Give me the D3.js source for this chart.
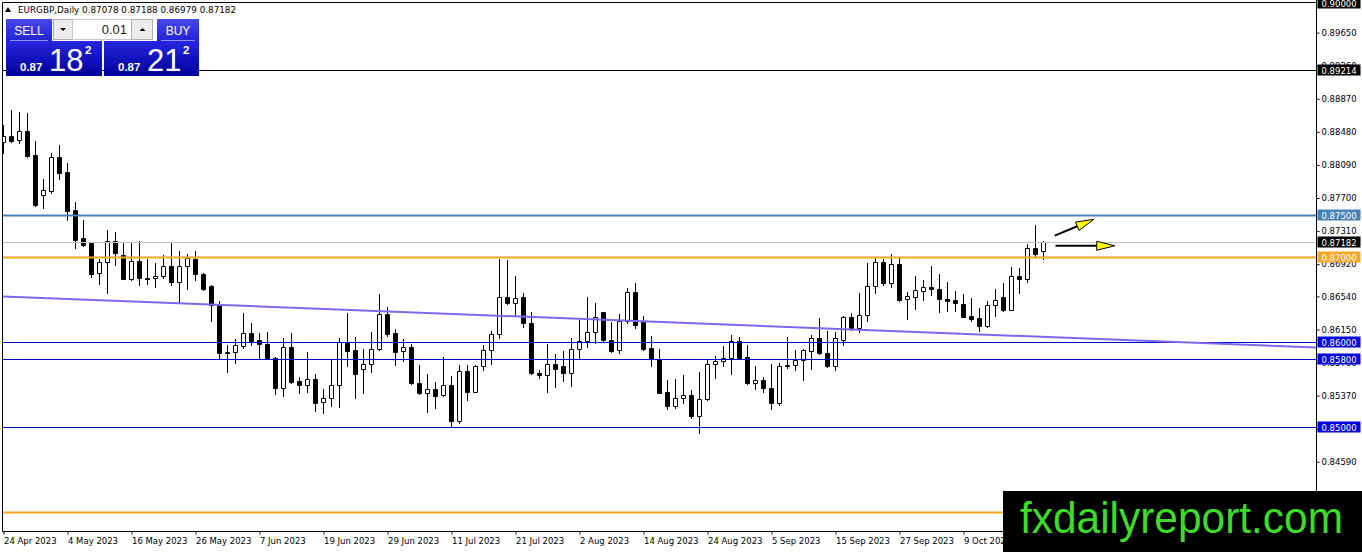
<!DOCTYPE html>
<html>
<head>
<meta charset="utf-8">
<script src="https://cdn.jsdelivr.net/npm/d3@7"></script>
<style>
body { margin: 0; background: #fff; }
svg { display: block; }
</style>
</head>
<body>
<script>
// daily EURGBP bars, 24 Apr 2023 onwards
var barOpen = [
  0.88364, 0.88431, 0.88384, 0.88494, 0.88207, 0.87736, 0.87786, 0.88184, 0.88011, 0.87559,
  0.87232, 0.87166, 0.86813, 0.86949, 0.87197, 0.87028, 0.86745, 0.86957, 0.86753, 0.86753,
  0.86784, 0.86898, 0.86713, 0.86898, 0.86977, 0.86804, 0.86666, 0.86438, 0.85876, 0.85881,
  0.85959, 0.86105, 0.86026, 0.85975, 0.85810, 0.85456, 0.85947, 0.85539, 0.85500, 0.85571,
  0.85291, 0.85338, 0.85492, 0.85994, 0.85908, 0.85681, 0.85748, 0.85925, 0.86329, 0.86105,
  0.85900, 0.85939, 0.85524, 0.85397, 0.85444, 0.85377, 0.85492, 0.85074, 0.85664, 0.85416,
  0.85722, 0.85913, 0.86093, 0.86529, 0.86458, 0.86529, 0.86223, 0.85642, 0.85618, 0.85748,
  0.85719, 0.85642, 0.85925, 0.86014, 0.86117, 0.86352, 0.86026, 0.85908, 0.86250, 0.86595,
  0.86250, 0.85935, 0.85801, 0.85409, 0.85251, 0.85338, 0.85377, 0.85133, 0.85326, 0.85748,
  0.85775, 0.85810, 0.86014, 0.85822, 0.85524, 0.85559, 0.85456, 0.85286, 0.85722, 0.85731,
  0.85790, 0.85896, 0.86047, 0.85869, 0.85722, 0.86026, 0.86294, 0.86164, 0.86321, 0.86666,
  0.86942, 0.86702, 0.86918, 0.86506, 0.86537, 0.86604, 0.86647, 0.86623, 0.86509, 0.86497,
  0.86450, 0.86309, 0.86282, 0.86191, 0.86438, 0.86537, 0.86384, 0.86780, 0.86741, 0.87107,
  0.87078
];
var barHigh = [
  0.88561, 0.88738, 0.88714, 0.88703, 0.88372, 0.87924, 0.88234, 0.88325, 0.88117, 0.87657,
  0.87441, 0.87170, 0.86977, 0.87323, 0.87303, 0.87166, 0.87173, 0.87193, 0.86977, 0.86930,
  0.87028, 0.87166, 0.87077, 0.87040, 0.87077, 0.86816, 0.86673, 0.86489, 0.85967, 0.86038,
  0.86348, 0.86223, 0.86112, 0.86117, 0.85822, 0.86054, 0.86105, 0.85590, 0.85888, 0.85630,
  0.85451, 0.85790, 0.86047, 0.86343, 0.86058, 0.85925, 0.86117, 0.86568, 0.86411, 0.86156,
  0.86034, 0.85978, 0.85736, 0.85625, 0.85531, 0.85828, 0.85598, 0.85736, 0.85731, 0.85736,
  0.85967, 0.86133, 0.86981, 0.86969, 0.86780, 0.86576, 0.86352, 0.85677, 0.85975, 0.85866,
  0.85893, 0.86047, 0.86262, 0.86529, 0.86466, 0.86359, 0.86234, 0.86329, 0.86642, 0.86698,
  0.86309, 0.86073, 0.85920, 0.85554, 0.85566, 0.85613, 0.85436, 0.85644, 0.85790, 0.85837,
  0.85959, 0.86085, 0.86065, 0.85967, 0.85719, 0.85590, 0.85748, 0.85760, 0.86058, 0.85908,
  0.85920, 0.86085, 0.86284, 0.86129, 0.86121, 0.86312, 0.86343, 0.86576, 0.86930, 0.86989,
  0.86981, 0.87036, 0.86989, 0.86595, 0.86780, 0.86733, 0.86898, 0.86801, 0.86713, 0.86607,
  0.86568, 0.86517, 0.86399, 0.86489, 0.86627, 0.86694, 0.86890, 0.86871, 0.87158, 0.87382,
  0.87188
];
var barLow = [
  0.88231, 0.88364, 0.88349, 0.88187, 0.87606, 0.87582, 0.87759, 0.87928, 0.87441, 0.87111,
  0.87140, 0.86773, 0.86686, 0.86584, 0.86910, 0.86745, 0.86739, 0.86675, 0.86686, 0.86651,
  0.86753, 0.86675, 0.86466, 0.86627, 0.86733, 0.86616, 0.86253, 0.85810, 0.85652, 0.85758,
  0.85935, 0.85967, 0.85817, 0.85798, 0.85385, 0.85369, 0.85519, 0.85397, 0.85416, 0.85192,
  0.85161, 0.85251, 0.85232, 0.85722, 0.85338, 0.85404, 0.85652, 0.85913, 0.86073, 0.85731,
  0.85782, 0.85507, 0.85388, 0.85180, 0.85227, 0.85369, 0.85015, 0.85043, 0.85318, 0.85409,
  0.85672, 0.85743, 0.86046, 0.86450, 0.86321, 0.86176, 0.85630, 0.85583, 0.85416, 0.85472,
  0.85543, 0.85484, 0.85817, 0.85939, 0.85989, 0.86018, 0.85888, 0.85869, 0.86223, 0.86168,
  0.85908, 0.85722, 0.85397, 0.85212, 0.85220, 0.85286, 0.85109, 0.84926, 0.85318, 0.85578,
  0.85722, 0.85630, 0.85810, 0.85512, 0.85448, 0.85416, 0.85212, 0.85259, 0.85699, 0.85672,
  0.85559, 0.85680, 0.85861, 0.85711, 0.85672, 0.85967, 0.86144, 0.86117, 0.86250, 0.86584,
  0.86675, 0.86655, 0.86486, 0.86274, 0.86391, 0.86497, 0.86556, 0.86361, 0.86368, 0.86368,
  0.86294, 0.86253, 0.86129, 0.86180, 0.86312, 0.86364, 0.86376, 0.86584, 0.86713, 0.87020,
  0.86979
];
var barClose = [
  0.88431, 0.88376, 0.88494, 0.88195, 0.87618, 0.87795, 0.88180, 0.87999, 0.87550, 0.87205,
  0.87152, 0.86804, 0.86949, 0.87197, 0.87048, 0.86751, 0.86957, 0.86760, 0.86745, 0.86780,
  0.86898, 0.86713, 0.86898, 0.86989, 0.86801, 0.86627, 0.86438, 0.85876, 0.85884, 0.85967,
  0.86105, 0.86014, 0.85975, 0.85810, 0.85456, 0.85947, 0.85531, 0.85500, 0.85571, 0.85279,
  0.85338, 0.85492, 0.85999, 0.85900, 0.85630, 0.85748, 0.85925, 0.86329, 0.86093, 0.85888,
  0.85939, 0.85519, 0.85397, 0.85444, 0.85369, 0.85500, 0.85074, 0.85664, 0.85416, 0.85719,
  0.85913, 0.86093, 0.86529, 0.86458, 0.86517, 0.86223, 0.85637, 0.85613, 0.85748, 0.85689,
  0.85642, 0.85925, 0.86014, 0.86117, 0.86301, 0.86026, 0.85900, 0.86250, 0.86595, 0.86203,
  0.85920, 0.85801, 0.85404, 0.85251, 0.85338, 0.85377, 0.85133, 0.85326, 0.85748, 0.85775,
  0.85810, 0.86014, 0.85817, 0.85519, 0.85559, 0.85456, 0.85286, 0.85722, 0.85731, 0.85790,
  0.85908, 0.86047, 0.85869, 0.85722, 0.86047, 0.86294, 0.86171, 0.86321, 0.86666, 0.86942,
  0.86702, 0.86918, 0.86497, 0.86545, 0.86615, 0.86647, 0.86623, 0.86506, 0.86486, 0.86466,
  0.86301, 0.86274, 0.86191, 0.86438, 0.86497, 0.86376, 0.86780, 0.86741, 0.87107, 0.87040,
  0.87182
];

var dateLabels = ["24 Apr 2023", "4 May 2023", "16 May 2023", "26 May 2023", "7 Jun 2023",
  "19 Jun 2023", "29 Jun 2023", "11 Jul 2023", "21 Jul 2023", "2 Aug 2023", "14 Aug 2023",
  "24 Aug 2023", "5 Sep 2023", "15 Sep 2023", "27 Sep 2023", "9 Oct 2023"];
var dateLabelBars = [0, 8, 16, 24, 32, 40, 48, 56, 64, 72, 80, 88, 96, 104, 112, 120];

var priceTicks = [0.89650, 0.89260, 0.88870, 0.88480, 0.88090, 0.87700, 0.87310, 0.86920,
  0.86540, 0.86150, 0.85760, 0.85370, 0.84980, 0.84590];

// horizontal levels drawn on the chart
var levelPrices = [0.89214, 0.87500, 0.87000, 0.86000, 0.85800, 0.85000, 0.84000];
var levelKinds  = ["black", "steel", "orange", "navy", "navy", "navy", "orange"];

// trend line anchors [bar, price]
var trendPoints = [[0, 0.86539], [130, 0.86062]];

// arrows [bar, price] from -> to
var arrowFrom = [[131.4, 0.87256], [131.5, 0.87137]];
var arrowTo   = [[136.3, 0.87449], [138.9, 0.87137]];

var symbol = "EURGBP,Daily";
var bidPrice = 0.87182, askPrice = 0.87212, lotSize = "0.01";
var siteName = "fxdailyreport.com";

var colors = {
  black: "#000000", steel: "#4682b4", orange: "#f5a623", navy: "#0000c8",
  navyBox: "#0000e6", trend: "#7b68ee", bid: "#c0c0c0"
};

var W = 1362, H = 552;
var plotL = 2.5, plotR = 1316.5, plotT = 2.5, plotB = 531.5;
var markTop = 491; // top of the site banner
var font = "'DejaVu Sans', sans-serif";
var fs = 8.5;

var x = d3.scaleLinear().domain([0, 130]).range([3.5, 1043.5]);
var y = d3.scaleLinear().domain([0.85, 0.90]).range([427, 3]);

var svg = d3.select("body").append("svg")
    .attr("width", W)
    .attr("height", H);

var defs = svg.append("defs");
defs.append("clipPath").attr("id", "plotClip")
  .append("rect")
    .attr("x", plotL + 0.5).attr("y", plotT + 0.5)
    .attr("width", plotR - plotL - 0.5).attr("height", plotB - plotT - 0.5);

var gBtn = defs.append("linearGradient").attr("id", "btnGrad")
    .attr("x1", 0).attr("y1", 0).attr("x2", 0).attr("y2", 1);
gBtn.append("stop").attr("offset", "0%").attr("stop-color", "#4848f0");
gBtn.append("stop").attr("offset", "100%").attr("stop-color", "#2222d0");

var gBox = defs.append("linearGradient").attr("id", "boxGrad")
    .attr("x1", 0).attr("y1", 0).attr("x2", 0).attr("y2", 1);
gBox.append("stop").attr("offset", "0%").attr("stop-color", "#2626e0");
gBox.append("stop").attr("offset", "100%").attr("stop-color", "#00009a");

var plot = svg.append("g").attr("clip-path", "url(#plotClip)");

// candles
var bars = d3.range(barOpen.length).map(function (i) {
  return { i: i, o: barOpen[i], h: barHigh[i], l: barLow[i], c: barClose[i] };
});

plot.selectAll("line.wick")
  .data(bars)
  .enter()
  .append("line")
    .attr("class", "wick")
    .attr("x1", function (d) { return x(d.i); })
    .attr("x2", function (d) { return x(d.i); })
    .attr("y1", function (d) { return Math.round(y(d.h)); })
    .attr("y2", function (d) { return Math.round(y(d.l)) + 1; })
    .attr("stroke", "#000")
    .attr("shape-rendering", "crispEdges");

plot.selectAll("path.body")
  .data(bars)
  .enter()
  .append("path")
    .attr("class", "body")
    .attr("d", function (d) {
      var top = Math.round(y(Math.max(d.o, d.c))) + 0.5;
      var bot = Math.round(y(Math.min(d.o, d.c))) + 0.5;
      var x0 = x(d.i) - 2;
      return "M" + x0 + "," + top + "H" + (x0 + 4) + "V" + bot + "H" + x0 + "Z";
    })
    .attr("fill", function (d) { return d.c >= d.o ? "#fff" : "#000"; })
    .attr("stroke", "#000")
    .attr("stroke-width", 1);

// level lines
plot.selectAll("line.level")
  .data(levelPrices)
  .enter()
  .append("line")
    .attr("class", "level")
    .attr("x1", plotL).attr("x2", plotR)
    .attr("y1", function (d) { return Math.round(y(d)) + 0.5; })
    .attr("y2", function (d) { return Math.round(y(d)) + 0.5; })
    .attr("stroke", function (d, i) { return colors[levelKinds[i]]; })
    .attr("stroke-width", function (d, i) {
      var k = levelKinds[i];
      return (k === "orange" || k === "steel") ? 2 : 1;
    });

// bid line
plot.append("line")
    .attr("x1", plotL).attr("x2", plotR)
    .attr("y1", Math.round(y(bidPrice)) + 0.5)
    .attr("y2", Math.round(y(bidPrice)) + 0.5)
    .attr("stroke", colors.bid);

// trend line, extended across the whole plot
var tSlope = (trendPoints[1][1] - trendPoints[0][1]) / (trendPoints[1][0] - trendPoints[0][0]);
function trendAt(b) { return trendPoints[0][1] + tSlope * (b - trendPoints[0][0]); }
var bL = x.invert(plotL), bR = x.invert(plotR);
plot.append("line")
    .attr("x1", x(bL)).attr("y1", y(trendAt(bL)))
    .attr("x2", x(bR)).attr("y2", y(trendAt(bR)))
    .attr("stroke", colors.trend)
    .attr("stroke-width", 2);

// arrows
var headLen = 18, headHalf = 4.5;
arrowFrom.forEach(function (f, k) {
  var x1 = x(f[0]), y1 = y(f[1]);
  var x2 = x(arrowTo[k][0]), y2 = y(arrowTo[k][1]);
  var ang = Math.atan2(y2 - y1, x2 - x1);
  var bx = x2 - headLen * Math.cos(ang), by = y2 - headLen * Math.sin(ang);
  plot.append("line")
      .attr("x1", x1).attr("y1", y1)
      .attr("x2", bx).attr("y2", by)
      .attr("stroke", "#000")
      .attr("stroke-width", 2);
  var px = -Math.sin(ang) * headHalf, py = Math.cos(ang) * headHalf;
  plot.append("path")
      .attr("d", "M" + x2 + "," + y2 + "L" + (bx + px) + "," + (by + py) +
                 "L" + (bx - px) + "," + (by - py) + "Z")
      .attr("fill", "#ffff00")
      .attr("stroke", "#000")
      .attr("stroke-width", 1);
});

// frame
svg.append("path")
    .attr("d", "M" + plotL + "," + plotB + "V" + plotT + "H" + plotR)
    .attr("fill", "none")
    .attr("stroke", "#000");
svg.append("line")
    .attr("x1", plotR).attr("x2", plotR)
    .attr("y1", 0).attr("y2", plotB)
    .attr("stroke", "#000");
svg.append("line")
    .attr("x1", plotL).attr("x2", plotR)
    .attr("y1", plotB).attr("y2", plotB)
    .attr("stroke", "#000");

// price axis
var yAxis = d3.axisRight(y)
    .tickValues(priceTicks)
    .tickSize(3)
    .tickPadding(2)
    .tickFormat(d3.format(".5f"));

var gy = svg.append("g")
    .attr("transform", "translate(" + plotR + ",0)")
    .call(yAxis);
gy.select(".domain").remove();
gy.selectAll("text")
    .attr("font-family", font)
    .attr("font-size", fs)
    .attr("fill", "#000");

// price labels on the axis (the lowest one sits under the banner)
var axisBoxes = [[0.90000, "black"]].concat(
  levelPrices.map(function (p, i) {
    return [p, levelKinds[i] === "navy" ? "navyBox" : levelKinds[i]];
  }),
  [[bidPrice, "black"]]
).filter(function (d) { return y(d[0]) < markTop - 6; });

var boxG = svg.selectAll("g.pbox")
  .data(axisBoxes)
  .enter()
  .append("g")
    .attr("class", "pbox")
    .attr("transform", function (d) { return "translate(" + (plotR + 1) + "," + Math.round(y(d[0])) + ")"; });
boxG.append("rect")
    .attr("x", 0).attr("y", -5.5)
    .attr("width", 43).attr("height", 11)
    .attr("fill", function (d) { return colors[d[1]]; });
boxG.append("text")
    .attr("x", 4).attr("y", 4)
    .attr("font-family", font)
    .attr("font-size", fs)
    .attr("fill", "#fff")
    .text(function (d) { return d3.format(".5f")(d[0]); });

// date axis
var xAxis = d3.axisBottom(x)
    .tickValues(dateLabelBars)
    .tickSize(3)
    .tickPadding(3)
    .tickFormat(function (d, i) { return dateLabels[i]; });

var gx = svg.append("g")
    .attr("transform", "translate(0," + plotB + ")")
    .call(xAxis);
gx.select(".domain").remove();
gx.selectAll("text")
    .attr("text-anchor", "start")
    .attr("font-family", font)
    .attr("font-size", fs)
    .attr("fill", "#000");

// header
svg.append("path")
    .attr("d", "M5,12 L8,7 L11,12 Z")
    .attr("fill", "#000");
svg.append("text")
    .attr("x", 18).attr("y", 13)
    .attr("font-family", font)
    .attr("font-size", 8.8)
    .attr("fill", "#000")
    .text(symbol + "  " + [barOpen, barHigh, barLow, barClose].map(function (a) {
      return d3.format(".5f")(a[a.length - 1]);
    }).join(" "));

// one-click trading panel
var panel = svg.append("g");
var uiFont = "'Liberation Sans', Arial, sans-serif";

function button(x0, w, label) {
  panel.append("rect")
      .attr("x", x0).attr("y", 19).attr("width", w).attr("height", 22)
      .attr("fill", "url(#btnGrad)");
  panel.append("line")
      .attr("x1", x0 + 4).attr("x2", x0 + w - 4)
      .attr("y1", 40.5).attr("y2", 40.5)
      .attr("stroke", "#9090ff");
  panel.append("text")
      .attr("x", x0 + w / 2).attr("y", 34.5)
      .attr("text-anchor", "middle")
      .attr("font-family", uiFont)
      .attr("font-size", 12)
      .attr("fill", "#fff")
      .text(label);
}
button(6, 46, "SELL");
button(157, 42, "BUY");

panel.append("rect")
    .attr("x", 53.5).attr("y", 19.5).attr("width", 19).attr("height", 20)
    .attr("fill", "#ececec").attr("stroke", "#b0b0b0");
panel.append("path").attr("d", "M60,28 L66,28 L63,31 Z").attr("fill", "#000");
panel.append("rect")
    .attr("x", 72.5).attr("y", 19.5).attr("width", 59).attr("height", 20)
    .attr("fill", "#fff").attr("stroke", "#c8c8c8");
panel.append("text")
    .attr("x", 127).attr("y", 34)
    .attr("text-anchor", "end")
    .attr("font-family", uiFont)
    .attr("font-size", 13)
    .attr("fill", "#222")
    .text(lotSize);
panel.append("rect")
    .attr("x", 131.5).attr("y", 19.5).attr("width", 21).attr("height", 20)
    .attr("fill", "#ececec").attr("stroke", "#b0b0b0");
panel.append("path").attr("d", "M139.5,31 L145.5,31 L142.5,28 Z").attr("fill", "#000");

function priceBox(x0, w, price) {
  var s = d3.format(".5f")(price);
  panel.append("rect")
      .attr("x", x0).attr("y", 41).attr("width", w).attr("height", 35)
      .attr("fill", "url(#boxGrad)");
  panel.append("text")
      .attr("x", x0 + 14).attr("y", 71)
      .attr("font-family", uiFont).attr("font-size", 11.5).attr("font-weight", "bold")
      .attr("fill", "#fff")
      .text(s.slice(0, 4));
  panel.append("text")
      .attr("x", x0 + 43).attr("y", 71)
      .attr("font-family", uiFont).attr("font-size", 31)
      .attr("fill", "#fff")
      .text(s.slice(4, 6));
  panel.append("text")
      .attr("x", x0 + 79).attr("y", 54)
      .attr("font-family", uiFont).attr("font-size", 11.5).attr("font-weight", "bold")
      .attr("fill", "#fff")
      .text(s.slice(6));
}
priceBox(6, 96, bidPrice);
priceBox(104, 95, askPrice);

// watermark
svg.append("rect")
    .attr("x", 1003).attr("y", markTop)
    .attr("width", W - 1003).attr("height", H - markTop)
    .attr("fill", "#000");
svg.append("text")
    .attr("x", 1020).attr("y", 533)
    .attr("font-family", uiFont)
    .attr("font-size", 44)
    .attr("textLength", 323)
    .attr("lengthAdjust", "spacingAndGlyphs")
    .attr("fill", "#3ddc26")
    .text(siteName);
</script>
</body>
</html>
